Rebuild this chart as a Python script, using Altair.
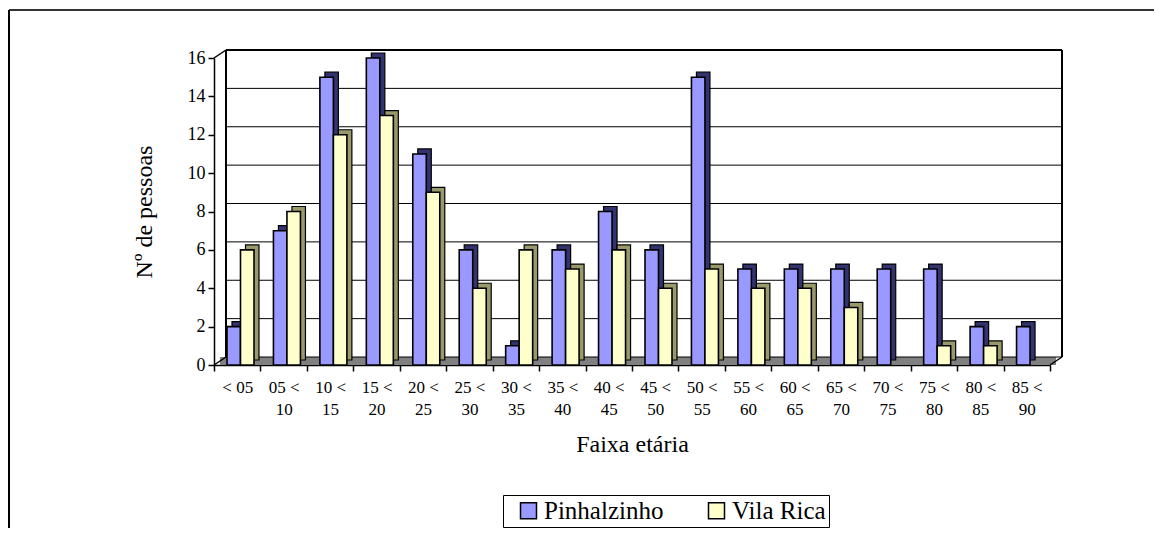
import altair as alt
import pandas as pd

categories = ["< 05", "05 < 10", "10 < 15", "15 < 20", "20 < 25", "25 < 30",
              "30 < 35", "35 < 40", "40 < 45", "45 < 50", "50 < 55", "55 < 60",
              "60 < 65", "65 < 70", "70 < 75", "75 < 80", "80 < 85", "85 < 90"]
pinhalzinho = [2, 7, 15, 16, 11, 6, 1, 6, 8, 6, 15, 5, 5, 5, 5, 5, 2, 2]
vila_rica = [6, 8, 12, 13, 9, 4, 6, 5, 6, 4, 5, 4, 4, 3, 0, 1, 1, 0]
series = ["Pinhalzinho", "Vila Rica"]
colors = ["#9999FF", "#FFFFCC"]
side_colors = ["#333370", "#99996B"]
y_ticks = [0, 2, 4, 6, 8, 10, 12, 14, 16]

rows = []
for c, p, v in zip(categories, pinhalzinho, vila_rica):
    rows.append({"faixa": c, "serie": series[0], "n": p})
    rows.append({"faixa": c, "serie": series[1], "n": v})
df = pd.DataFrame(rows)
grid_df = pd.DataFrame({"n": y_ticks})
one = pd.DataFrame({"a": [0]})

W, H = 836, 307
DX, DY = 12, -8          # back-wall depth offset (px)
BX, BY = 5, -5           # bar depth offset (px)
FONT = "Liberation Serif, Times New Roman, serif"

yscale = alt.Scale(domain=[0, 16], nice=False, zero=True)
xscale = alt.Scale(domain=categories, paddingInner=0, paddingOuter=0)
front_off = alt.Scale(domain=series, range=[13, 40], paddingInner=0, paddingOuter=0)
side_off = alt.Scale(domain=series, range=[13 + BX, 40 + BX], paddingInner=0, paddingOuter=0)

label_expr = ("length(split(datum.value, ' < ')) > 1 ? "
              "[split(datum.value, ' < ')[0] + ' <', split(datum.value, ' < ')[1]] : datum.value")

x_axis = alt.Axis(title="Faixa etária", tickBand="extent", labelAngle=0,
                  labelExpr=label_expr, labelFontSize=17, labelLineHeight=22.7,
                  labelBaseline="top", labelPadding=8, tickSize=6,
                  labelFont=FONT, titleFont=FONT,
                  titleFontSize=24, titleX=418, titleY=86.7, titleAlign="center",
                  titleBaseline="alphabetic", titleFontWeight="normal")
y_axis = alt.Axis(title="Nº de pessoas", values=y_ticks, grid=False, tickSize=6,
                  labelFont=FONT, titleFont=FONT,
                  labelFontSize=18, labelPadding=3, titleFontSize=24,
                  titleX=-70, titleY=153.5, titleAngle=270, titleAlign="center",
                  titleBaseline="middle", titleFontWeight="normal")


def vrule(x, y, x2, y2, width=1.5, color="black"):
    return alt.Chart(one).mark_rule(color=color, strokeWidth=width).encode(
        x=alt.value(x), y=alt.value(y), x2=alt.value(x2), y2=alt.value(y2))


floor = alt.Chart(one).mark_rect(color="#808080").encode(
    x=alt.value(DX / 2), x2=alt.value(W + DX / 2), y=alt.value(H + DY), y2=alt.value(H))

grid = alt.Chart(grid_df).mark_rule(color="black", strokeWidth=1, yOffset=DY).encode(
    y=alt.Y("n:Q", scale=yscale, axis=y_axis),
    x=alt.value(DX), x2=alt.value(W + DX))

walls = [
    vrule(DX, DY, DX, H + DY, 2),
    vrule(DX, DY, W + DX, DY, 2),
    vrule(W + DX, DY, W + DX, H + DY, 2),
    vrule(0, 0, DX, DY, 1.5),
    vrule(0, H, DX, H + DY, 1.5),
    vrule(W, H, W + DX, H + DY, 1.5),
]

bars_base = alt.Chart(df).transform_filter("datum.n > 0")

sides = bars_base.mark_bar(stroke="black", strokeWidth=1.2, yOffset=BY).encode(
    x=alt.X("faixa:N", scale=xscale, axis=x_axis),
    xOffset=alt.XOffset("serie:N", scale=side_off),
    y=alt.Y("n:Q", scale=yscale, axis=y_axis),
    fill=alt.condition(alt.datum.serie == series[0], alt.value(side_colors[0]), alt.value(side_colors[1])),
)

fronts = bars_base.mark_bar(stroke="black", strokeWidth=1.6).encode(
    x=alt.X("faixa:N", scale=xscale, axis=x_axis),
    xOffset=alt.XOffset("serie:N", scale=front_off),
    y=alt.Y("n:Q", scale=yscale, axis=y_axis),
    fill=alt.Fill("serie:N", scale=alt.Scale(domain=series, range=colors),
                  legend=alt.Legend(title=None, orient="none", legendX=289, legendY=437,
                                    direction="horizontal", symbolType="square",
                                    symbolSize=256, symbolStrokeColor="black",
                                    symbolStrokeWidth=1.5, labelFontSize=25,
                                    labelFont=FONT, labelOffset=3, columnPadding=30,
                                    symbolOffset=10, padding=3, strokeColor="black")),
)

frame = [
    vrule(-205, -48, 940, -48, 2, "#333333"),
    vrule(-205, -48, -205, 470, 2, "black"),
]

chart = alt.layer(floor, grid, *walls, sides, fronts, *frame).resolve_scale(
    xOffset="independent"
).properties(
    width=W, height=H,
    padding={"left": 206, "top": 50, "right": 112, "bottom": 163},
    autosize=alt.AutoSizeParams(type="none"),
).configure(font=FONT).configure_view(stroke=None).configure_axis(
    labelFont=FONT, titleFont=FONT, labelColor="black", titleColor="black",
    domainColor="black", tickColor="black", domainWidth=1.5, tickWidth=1.5,
).configure_legend(labelColor="black", labelFont=FONT)

chart.save("out.html", embed_options={"renderer": "svg", "actions": False})
